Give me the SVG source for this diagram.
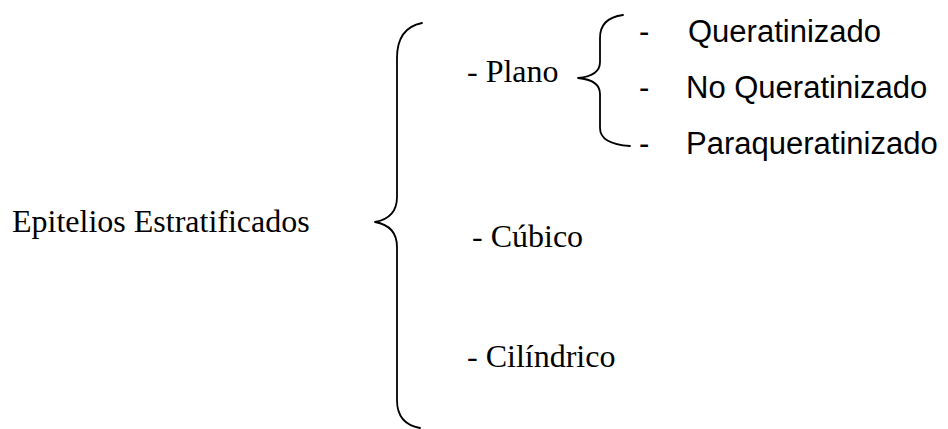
<svg xmlns="http://www.w3.org/2000/svg" width="948" height="429" viewBox="0 0 948 429">
<style>
.serif{font-family:"Liberation Serif","Times New Roman",serif;font-size:32px;fill:#000}
.sans{font-family:"Liberation Sans",Arial,sans-serif;font-size:31px;fill:#000}
.brace{fill:none;stroke:#000;stroke-width:1.8;stroke-linecap:round;stroke-linejoin:round}
</style>
<rect width="948" height="429" fill="#fff"/>
<g id="connectors">
<path class="brace" d="M422 23 Q397 28 397 58 V197 Q397 218 375 222 Q397 226 397 247 V400 Q397 424 420 428"/>
<path class="brace" d="M623 15 Q600 18 600 38 V62 Q600 76 578 78 Q600 80 600 94 V128 Q600 144 630 146"/>
</g>
<g id="root"><text class="serif" x="12" y="232">Epitelios Estratificados</text></g>
<g id="plano"><text class="serif" x="467" y="82">- Plano</text></g>
<g id="cubico"><text class="serif" x="472" y="247">- Cúbico</text></g>
<g id="cilindrico"><text class="serif" x="467" y="367">- Cilíndrico</text></g>
<g id="queratinizado"><text class="sans" x="639" y="42">-</text><text class="sans" x="688" y="42">Queratinizado</text></g>
<g id="no-queratinizado"><text class="sans" x="639" y="98">-</text><text class="sans" x="686" y="98">No Queratinizado</text></g>
<g id="paraqueratinizado"><text class="sans" x="639" y="154">-</text><text class="sans" x="686" y="154">Paraqueratinizado</text></g>
</svg>
